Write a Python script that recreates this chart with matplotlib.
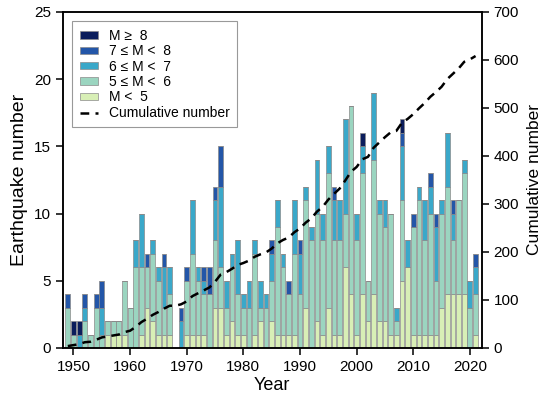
import numpy as np
import matplotlib.pyplot as plt
from matplotlib.lines import Line2D
from matplotlib.patches import Patch

# ================================
# DATA
# ================================
years = list(range(1949, 2022))

m_lt5 = [0, 0, 0, 0, 0, 0, 0, 1, 1, 1, 1, 0, 0, 1, 3, 2, 1, 1, 1, 0,
         0, 1, 1, 1, 1, 0, 3, 3, 1, 2, 1, 1, 0, 1, 2, 0, 2, 1, 1, 1,
         1, 0, 3, 0, 2, 1, 3, 1, 1, 6, 4, 1, 4, 2, 4, 2, 2, 1, 1, 5,
         6, 1, 1, 1, 1, 1, 3, 4, 4, 4, 4, 0, 1]
m_5_6 = [3, 1, 0, 2, 1, 3, 1, 1, 1, 1, 4, 3, 6, 5, 3, 5, 4, 2, 3, 0,
         0, 4, 6, 4, 3, 4, 5, 3, 2, 4, 3, 2, 3, 6, 1, 3, 3, 8, 5, 3,
         6, 4, 8, 8, 8, 7, 10, 7, 7, 4, 14, 7, 9, 3, 10, 8, 7, 9, 1, 6,
         0, 8, 10, 7, 9, 4, 7, 8, 4, 7, 9, 3, 3]
m_6_7 = [0, 0, 1, 1, 0, 0, 2, 0, 0, 0, 0, 0, 2, 4, 0, 1, 1, 3, 2, 0,
         2, 0, 4, 1, 1, 0, 3, 6, 2, 1, 4, 1, 2, 1, 2, 1, 2, 2, 1, 0,
         4, 3, 1, 1, 4, 2, 2, 3, 3, 7, 0, 2, 2, 0, 5, 1, 2, 0, 1, 4,
         2, 0, 1, 3, 2, 4, 1, 4, 2, 0, 1, 2, 2]
m_7_8 = [1, 0, 0, 1, 0, 1, 2, 0, 0, 0, 0, 0, 0, 0, 1, 0, 0, 1, 0, 0,
         1, 1, 0, 0, 1, 2, 1, 3, 0, 0, 0, 0, 0, 0, 0, 0, 1, 0, 0, 1,
         0, 1, 0, 0, 0, 0, 0, 1, 0, 0, 0, 0, 0, 0, 0, 0, 0, 0, 0, 1,
         0, 1, 0, 0, 1, 1, 0, 0, 1, 0, 0, 0, 1]
m_ge8 = [0, 1, 1, 0, 0, 0, 0, 0, 0, 0, 0, 0, 0, 0, 0, 0, 0, 0, 0, 0,
         0, 0, 0, 0, 0, 0, 0, 0, 0, 0, 0, 0, 0, 0, 0, 0, 0, 0, 0, 0,
         0, 0, 0, 0, 0, 0, 0, 0, 0, 0, 0, 0, 1, 0, 0, 0, 0, 0, 0, 1,
         0, 0, 0, 0, 0, 0, 0, 0, 0, 0, 0, 0, 0]

cumulative = [4, 6, 8, 12, 13, 17, 22, 24, 26, 28, 33, 36, 44, 54, 61, 69, 75, 82, 88, 88,
              91, 97, 108, 114, 120, 126, 138, 153, 158, 165, 173, 177, 182, 190, 195, 199, 207, 218, 225, 230,
              241, 249, 261, 270, 284, 294, 309, 321, 332, 349, 367, 377, 393, 398, 417, 428, 439, 449, 452, 469,
              477, 487, 499, 510, 523, 533, 544, 560, 571, 582, 596, 601, 608]

labels = ["M <  5", "5 \u2264 M <  6", "6 \u2264 M <  7", "7 \u2264 M <  8", "M \u2265  8"]
colors = ["#d8efb6", "#9bd5c0", "#3aa8c9", "#2356a8", "#0b1d5c"]

# ================================
# PLOT
# ================================
plt.rcParams["font.family"] = ["Liberation Sans", "DejaVu Sans"]

fig = plt.figure(figsize=(5.5, 3.95), dpi=100)
ax = fig.add_axes([0.114, 0.119, 0.762, 0.851])

series = [m_lt5, m_5_6, m_6_7, m_7_8, m_ge8]
bottom = np.zeros(len(years))
for vals, col in zip(series, colors):
    ax.bar(years, vals, bottom=bottom, width=0.85, color=col,
           edgecolor="#8a8a8a", linewidth=0.5)
    bottom += np.array(vals)

ax.set_xlim(1948.1, 2022.1)
ax.set_ylim(0, 25)
ax.set_xticks(range(1950, 2021, 10))
ax.set_yticks(range(0, 26, 5))
ax.set_xlabel("Year", fontsize=13, labelpad=2)
ax.set_ylabel("Earthquake number", fontsize=14, labelpad=4)
ax.tick_params(labelsize=11, direction="out", length=5, width=1.1)

ax2 = ax.twinx()
ax2.plot(years, cumulative, color="black", linestyle=(0, (3.5, 2.5)), linewidth=1.8)
ax2.set_ylim(0, 700)
ax2.set_yticks(range(0, 701, 100))
ax2.set_ylabel("Cumulative number", fontsize=12.5, labelpad=6)
ax2.tick_params(labelsize=11, direction="out", length=5, width=1.1)

for a in (ax, ax2):
    for s in a.spines.values():
        s.set_linewidth(1.1)

handles = [Patch(facecolor=c, edgecolor="#8a8a8a", linewidth=0.5) for c in colors[::-1]]
handles.append(Line2D([0], [0], color="black", linestyle=(0, (3.5, 2.5)), linewidth=1.8))
leg = ax.legend(handles, labels[::-1] + ["Cumulative number"], loc="upper left",
                bbox_to_anchor=(0.022, 0.972), borderaxespad=0, fontsize=10,
                frameon=True, fancybox=False, edgecolor="#808080",
                handlelength=1.3, handleheight=0.45, labelspacing=0.1,
                borderpad=0.55, handletextpad=0.8)
leg.get_frame().set_linewidth(0.8)

plt.savefig("out.png", dpi=100)
